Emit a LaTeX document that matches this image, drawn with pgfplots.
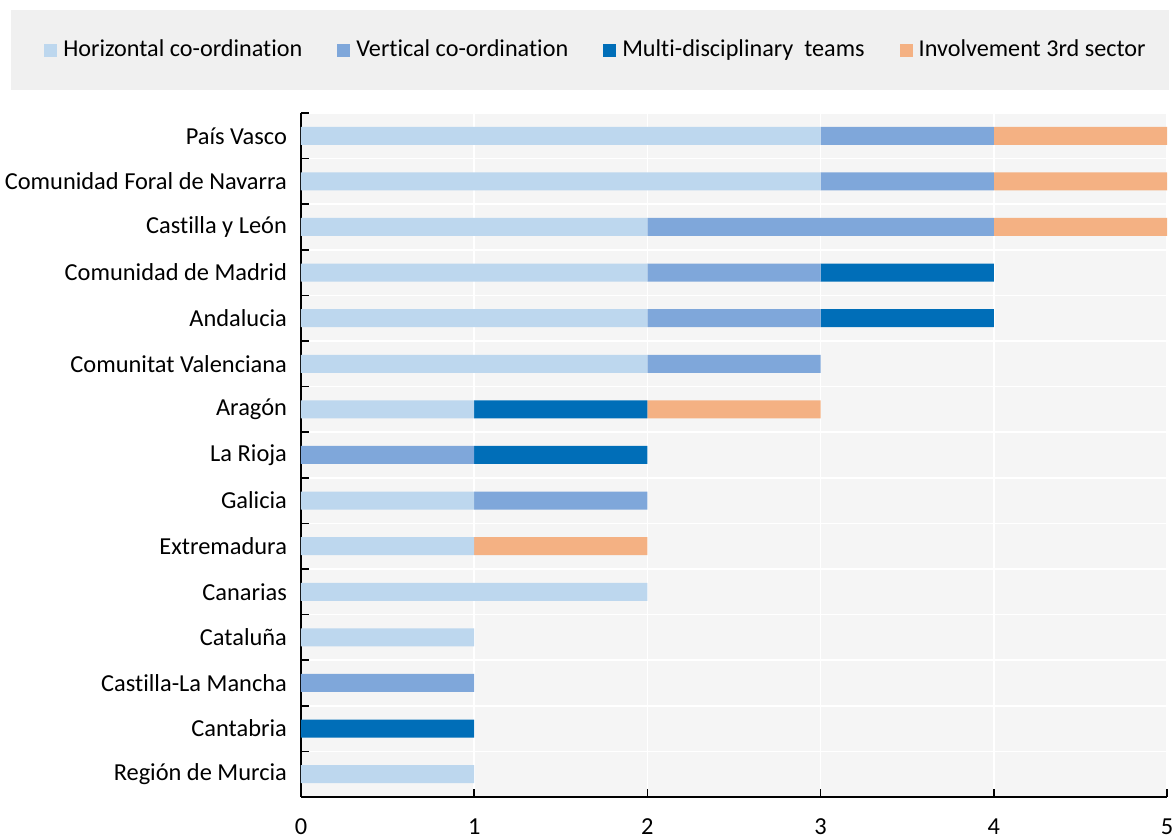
\documentclass[border=0pt]{standalone}
\usepackage{pgfplots}
\usepackage{pgfplotstable}
\usepackage{fontspec}
\setmainfont[Ligatures=NoCommon]{Carlito}
\pgfplotsset{compat=1.18}

\definecolor{hor}{HTML}{BDD7EE}
\definecolor{ver}{HTML}{7FA7DA}
\definecolor{mul}{HTML}{006EB8}
\definecolor{inv}{HTML}{F4B183}
\definecolor{legbg}{HTML}{F0F0F0}
\definecolor{plotbg}{HTML}{F5F5F5}

% rows from bottom (0) to top (14)
\pgfplotstableread{
y  H V M I
0  1 0 0 0
1  0 0 1 0
2  0 1 0 0
3  1 0 0 0
4  2 0 0 0
5  1 0 0 1
6  1 1 0 0
7  0 1 1 0
8  1 0 1 1
9  2 1 0 0
10 2 1 1 0
11 2 1 1 0
12 2 2 0 1
13 3 1 0 1
14 3 1 0 1
}\regions

\begin{document}
\begin{tikzpicture}
\path[use as bounding box] (-150.5pt,-20.5pt) rectangle (437.5pt,398.5pt);
% legend panel
\fill[legbg] (-145pt,353.5pt) rectangle (434pt,393.5pt);
\begin{axis}[
    at={(0,0)}, anchor=south west,
    scale only axis,
    width=433pt, height=342pt,
    xbar stacked,
    bar width=9pt,
    xmin=0, xmax=5,
    ymin=-0.5, ymax=14.5,
    xtick={0,...,5},
    ytick={-0.5,0.5,...,14.5},
    y tick label as interval,
    yticklabels={Región de Murcia, Cantabria, Castilla-La Mancha, Cataluña, Canarias,
        Extremadura, Galicia, La Rioja, Aragón, Comunitat Valenciana, Andalucia,
        Comunidad de Madrid, Castilla y León, Comunidad Foral de Navarra, País Vasco},
    axis x line*=bottom,
    axis y line*=left,
    axis line style={line width=0.8pt},
    tick style={black, line width=0.8pt},
    tick align=inside,
    major tick length=4pt,
    xmajorgrids, ymajorgrids,
    major grid style={white, line width=0.8pt},
    axis background/.style={fill=plotbg},
    font=\fontsize{12.2}{14}\selectfont,
    /pgf/number format/assume math mode=true,
    yticklabel style={xshift=-3.5pt},
    xticklabel style={yshift=-7.5pt},
    legend columns=4,
    legend style={at={(0.3395,1.092)}, anchor=center, draw=none, fill=none,
        font=\fontsize{12.1}{14}\selectfont,
        nodes={inner xsep=0pt},
        /tikz/every even column/.append style={column sep=17.5pt},
        /tikz/every odd column/.append style={column sep=3pt}},
    legend image code/.code={\fill[#1] (0pt,-3.25pt) rectangle (6.5pt,3.25pt);},
]
\addplot[fill=hor, draw=none] table[x=H, y=y] {\regions};
\addplot[fill=ver, draw=none] table[x=V, y=y] {\regions};
\addplot[fill=mul, draw=none] table[x=M, y=y] {\regions};
\addplot[fill=inv, draw=none] table[x=I, y=y] {\regions};
\legend{Horizontal co-ordination, Vertical co-ordination, Multi-disciplinary~ teams, Involvement 3rd sector}
\end{axis}
\end{tikzpicture}
\end{document}
